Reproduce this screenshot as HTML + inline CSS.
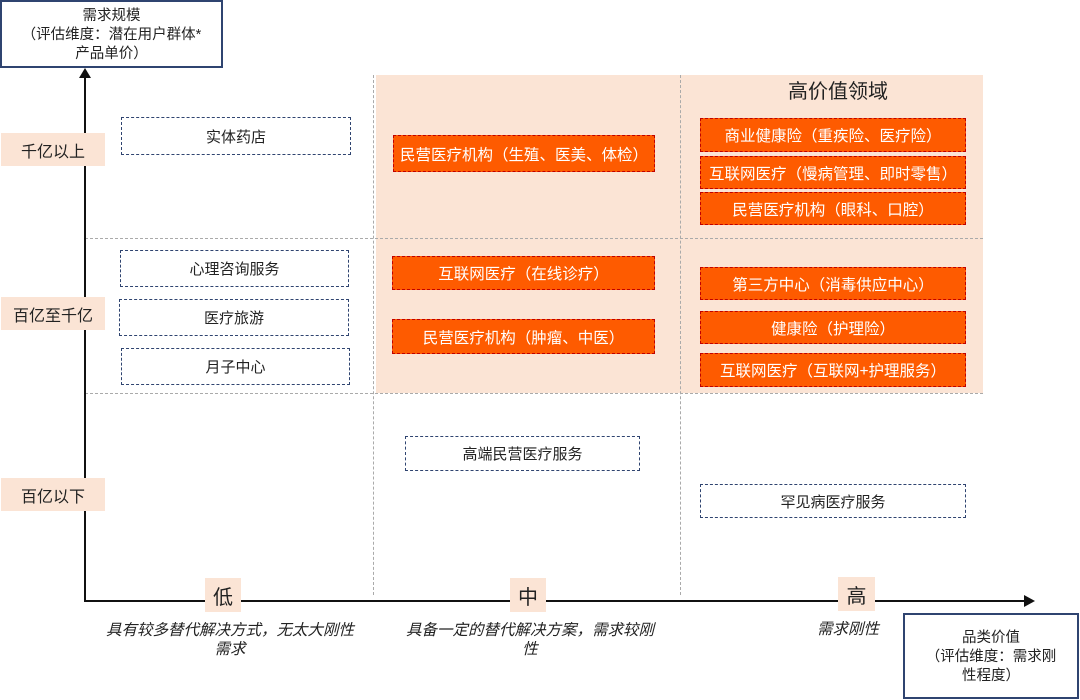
<!DOCTYPE html>
<html><head><meta charset="utf-8"><style>
body{margin:0;width:1080px;height:700px;background:#fff;position:relative;overflow:hidden;font-family:"Liberation Sans","Noto Sans CJK SC",sans-serif;color:#222}
div{position:absolute;box-sizing:border-box}
.w{border:1.5px dashed #2f4470;background:#fff;display:flex;align-items:center;justify-content:center;font-size:15px}
.o{border:1.5px dashed #c00000;background:#fe5b00;color:#fff;display:flex;align-items:center;justify-content:center;font-size:15.5px;white-space:nowrap}
.p{background:#fbe4d5;display:flex;align-items:center;justify-content:center;font-size:16px}
.c{text-align:center;font-style:italic;font-size:15.5px;line-height:19px}
</style></head><body>
<div style="left:376px;top:75px;width:607px;height:318px;background:#fbe4d5"></div>
<div style="left:373px;top:75px;height:520px;border-left:1px dashed #aaa"></div>
<div style="left:680px;top:75px;height:520px;border-left:1px dashed #aaa"></div>
<div style="left:85px;top:238px;width:898px;border-top:1px dashed #aaa"></div>
<div style="left:85px;top:393px;width:898px;border-top:1px dashed #aaa"></div>
<div style="left:84px;top:75px;width:2px;height:527px;background:#111"></div>
<div style="left:79px;top:68px;width:0;height:0;border-left:6px solid transparent;border-right:6px solid transparent;border-bottom:10px solid #111"></div>
<div style="left:84px;top:600px;width:942px;height:2px;background:#111"></div>
<div style="left:1024px;top:595px;width:0;height:0;border-top:6px solid transparent;border-bottom:6px solid transparent;border-left:11px solid #111"></div>
<div style="left:0;top:0;width:223px;height:68px;border:2px solid #2f4470;background:#fff;text-align:center;font-size:14.5px;line-height:19px;padding-top:5px">需求规模<br>（评估维度：潜在用户群体*<br>产品单价）</div>
<div style="left:903px;top:613px;width:176px;height:86px;border:2px solid #2f4470;background:#fff;text-align:center;font-size:14.5px;line-height:19px;padding-top:14px">品类价值<br>（评估维度：需求刚<br>性程度）</div>
<div class="p" style="left:1px;top:133px;width:104px;height:33px">千亿以上</div>
<div class="p" style="left:1px;top:297px;width:104px;height:33px">百亿至千亿</div>
<div class="p" style="left:1px;top:478px;width:104px;height:33px">百亿以下</div>
<div class="p" style="left:205px;top:578px;width:36px;height:34px;font-size:20px">低</div>
<div class="p" style="left:510px;top:578px;width:36px;height:34px;font-size:20px">中</div>
<div class="p" style="left:838px;top:577px;width:37px;height:34px;font-size:20px">高</div>
<div style="left:680px;top:78px;width:316px;text-align:center;font-size:20px;line-height:28px">高价值领域</div>
<div class="w" style="left:121px;top:117px;width:230px;height:38px">实体药店</div>
<div class="w" style="left:120px;top:250px;width:229px;height:37px">心理咨询服务</div>
<div class="w" style="left:119px;top:299px;width:230px;height:37px">医疗旅游</div>
<div class="w" style="left:121px;top:348px;width:229px;height:37px">月子中心</div>
<div class="w" style="left:405px;top:436px;width:235px;height:35px">高端民营医疗服务</div>
<div class="w" style="left:700px;top:484px;width:266px;height:34px">罕见病医疗服务</div>
<div class="o" style="left:393px;top:135px;width:262px;height:37px">民营医疗机构（生殖、医美、体检）</div>
<div class="o" style="left:392px;top:256px;width:263px;height:34px">互联网医疗（在线诊疗）</div>
<div class="o" style="left:392px;top:319px;width:263px;height:35px">民营医疗机构（肿瘤、中医）</div>
<div class="o" style="left:700px;top:118px;width:266px;height:34px">商业健康险（重疾险、医疗险）</div>
<div class="o" style="left:700px;top:156px;width:266px;height:33px">互联网医疗（慢病管理、即时零售）</div>
<div class="o" style="left:700px;top:192px;width:266px;height:33px">民营医疗机构（眼科、口腔）</div>
<div class="o" style="left:700px;top:267px;width:266px;height:33px">第三方中心（消毒供应中心）</div>
<div class="o" style="left:700px;top:311px;width:266px;height:33px">健康险（护理险）</div>
<div class="o" style="left:700px;top:353px;width:266px;height:34px">互联网医疗（互联网+护理服务）</div>
<div class="c" style="left:95px;top:621px;width:270px">具有较多替代解决方式，无太大刚性<br>需求</div>
<div class="c" style="left:395px;top:621px;width:270px">具备一定的替代解决方案，需求较刚<br>性</div>
<div class="c" style="left:790px;top:620px;width:116px">需求刚性</div>
</body></html>
